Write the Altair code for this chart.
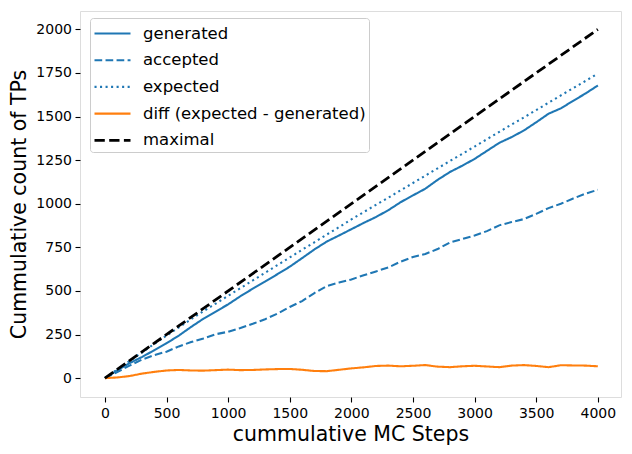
import altair as alt
import pandas as pd

# Monte Carlo step counter (every 100 steps)
steps = list(range(0, 4001, 100))

generated = [0, 45, 86, 121, 160, 200, 244, 294, 341, 382, 423,
             470, 513, 554, 596, 639, 688, 738, 783, 818, 854,
             890, 924, 963, 1009, 1048, 1086, 1137, 1182, 1218, 1257,
             1303, 1349, 1382, 1420, 1467, 1516, 1547, 1590, 1632, 1678]

accepted = [0, 35, 72, 106, 132, 152, 182, 207, 228, 252, 266,
            288, 312, 338, 370, 408, 442, 488, 528, 548, 566,
            590, 612, 635, 668, 695, 712, 740, 778, 798, 818,
            843, 876, 895, 912, 942, 975, 1000, 1030, 1058, 1080]

expected = [0, 49, 98, 147, 196, 244, 291, 338, 384, 428, 472,
            516, 560, 604, 648, 692, 736, 779, 823, 866, 910,
            952, 994, 1035, 1077, 1119, 1161, 1203, 1245, 1286, 1328,
            1370, 1412, 1454, 1495, 1537, 1579, 1621, 1663, 1704, 1746]

# difference between expected and generated counts
diff = [e - g for e, g in zip(expected, generated)]

# upper bound line
maximal_steps = [0, 4000]
maximal = [0, 2000]

series_names = ["generated", "accepted", "expected",
                "diff (expected - generated)", "maximal"]
series_colors = ["#1f77b4", "#1f77b4", "#1f77b4", "#ff7f0e", "#000000"]
series_dashes = [[1, 0], [7.7, 3.33], [2.08, 3.44], [1, 0], [10.3, 4.4]]
series_widths = [2.08, 2.08, 2.08, 2.08, 2.78]

rows = []
for name, vals in zip(series_names[:4], [generated, accepted, expected, diff]):
    for s, v in zip(steps, vals):
        rows.append({"step": s, "count": v, "series": name})
for s, v in zip(maximal_steps, maximal):
    rows.append({"step": s, "count": v, "series": "maximal"})
df = pd.DataFrame(rows)

W, H = 541, 386

# legend handle: a horizontal line segment, drawn in the symbol's unit space
handle_path = "M-1,0H2.273"

legend = alt.Legend(
    title=None,
    orient="none",
    legendX=10,
    legendY=7,
    symbolType=handle_path,
    symbolSize=484,
    symbolFillColor="transparent",
    labelFontSize=16.5,
    labelFont="DejaVu Sans",
    labelColor="black",
    labelLimit=0,
    labelOffset=25,
    padding=3,
    rowPadding=5.7,
    fillColor="rgba(255,255,255,0.8)",
    strokeColor="#cccccc",
    cornerRadius=3,
)

chart = alt.Chart(df).mark_line(strokeCap="butt").encode(
    x=alt.X(
        "step:Q",
        scale=alt.Scale(domain=[-202, 4188], nice=False, zero=False),
        axis=alt.Axis(
            title="cummulative MC Steps",
            values=list(range(0, 4001, 500)),
            format="d",
            grid=False,
            domain=False,
            tickColor="black",
            tickSize=5,
            tickWidth=1.1,
            labelPadding=4,
            labelFontSize=14,
            labelColor="black",
            labelFont="DejaVu Sans",
            titleFont="DejaVu Sans",
            titleFontSize=20.5,
            titleFontWeight="normal",
            titleColor="black",
            titleBaseline="alphabetic",
            titleY=43,
        ),
    ),
    y=alt.Y(
        "count:Q",
        scale=alt.Scale(domain=[-108, 2105], nice=False, zero=False),
        axis=alt.Axis(
            title="Cummulative count of TPs",
            values=list(range(0, 2001, 250)),
            format="d",
            grid=False,
            domain=False,
            tickColor="black",
            tickSize=5,
            tickWidth=1.1,
            labelPadding=3.5,
            labelFontSize=14,
            labelColor="black",
            labelFont="DejaVu Sans",
            titleFont="DejaVu Sans",
            titleFontSize=20.5,
            titleFontWeight="normal",
            titleColor="black",
            titleAngle=270,
            titleAlign="center",
            titleBaseline="alphabetic",
            titleX=-55,
            titleY=H / 2,
        ),
    ),
    color=alt.Color(
        "series:N",
        scale=alt.Scale(domain=series_names, range=series_colors),
        legend=legend,
    ),
    strokeDash=alt.StrokeDash(
        "series:N",
        scale=alt.Scale(domain=series_names, range=series_dashes),
        legend=legend,
    ),
    strokeWidth=alt.StrokeWidth(
        "series:N",
        scale=alt.Scale(type="ordinal", domain=series_names, range=series_widths),
        legend=legend,
    ),
).properties(
    width=W,
    height=H,
    autosize=alt.AutoSizeParams(type="none"),
    padding={"left": 80, "top": 11, "right": 11, "bottom": 57},
).configure_view(
    stroke="black",
    strokeWidth=1.1,
).configure(
    font="DejaVu Sans",
    background="white",
)

chart.save("out.html", embed_options={"renderer": "svg", "actions": False})
